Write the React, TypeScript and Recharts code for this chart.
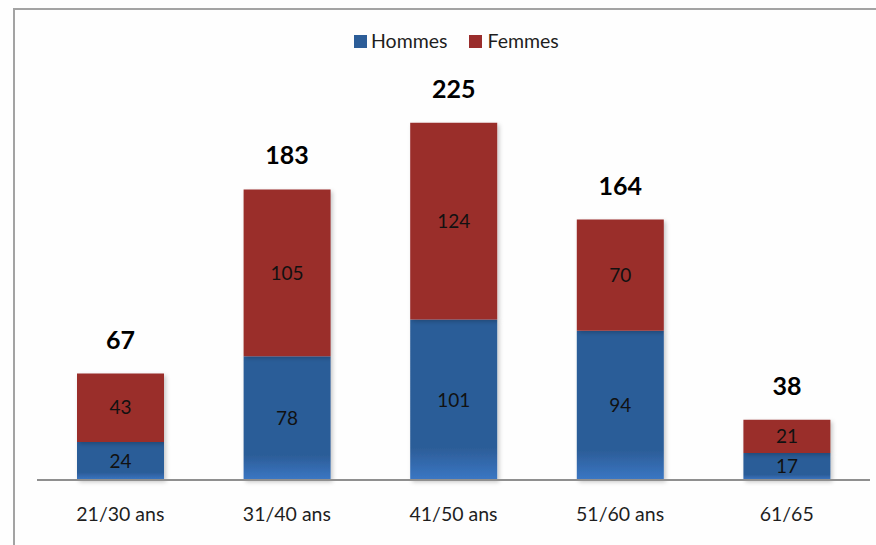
import React from "react";
import { BarChart, Bar, XAxis, YAxis, LabelList } from "recharts";

const categories = ["21/30 ans", "31/40 ans", "41/50 ans", "51/60 ans", "61/65"];
const hommes = [24, 78, 101, 94, 17];
const femmes = [43, 105, 124, 70, 21];
const totals = [67, 183, 225, 164, 38];

const data = categories.map((c, i) => ({
  name: c,
  hommes: hommes[i],
  femmes: femmes[i],
  total: totals[i],
}));

const FONT = "Lato, 'Open Sans', sans-serif";
const BLUE = "#2C5D98";
const RED = "#9A2D2C";

export default function App() {
  return (
    <div
      style={{
        position: "fixed",
        left: 0,
        top: 0,
        width: 876,
        height: 545,
        overflow: "hidden",
        background: "#fefefe",
        fontFamily: FONT,
      }}
    >
      <div
        style={{
          position: "absolute",
          left: 13,
          top: 8,
          width: 950,
          height: 650,
          border: "2px solid #a3a3a3",
          boxSizing: "border-box",
        }}
      />
      <div
        style={{
          position: "absolute",
          top: 30,
          left: 354,
          display: "flex",
          alignItems: "center",
          fontSize: 19.5,
          color: "#1e1e1e",
          lineHeight: "22px",
        }}
      >
        <span style={{ width: 13, height: 13, background: BLUE, display: "inline-block", marginRight: 4 }} />
        <span>Hommes</span>
        <span style={{ width: 13, height: 13, background: RED, display: "inline-block", marginLeft: 22, marginRight: 5 }} />
        <span>Femmes</span>
      </div>
      <div style={{ position: "absolute", left: 0, top: 0 }}>
        <BarChart
          width={876}
          height={545}
          data={data}
          margin={{ top: 83, right: 6, left: 37, bottom: 0 }}
          barSize={87}
        >
          <defs>
            <linearGradient id="blueGrad" x1="0" y1="0" x2="0" y2="1">
              <stop offset="0" stopColor={BLUE} />
              <stop offset="0.8" stopColor={BLUE} />
              <stop offset="1" stopColor="#3B77C4" />
            </linearGradient>
            <filter id="shadow" x="-10%" y="-10%" width="130%" height="130%">
              <feDropShadow dx="2" dy="2" stdDeviation="2" floodColor="#000" floodOpacity="0.22" />
            </filter>
          </defs>
          <XAxis
            dataKey="name"
            height={65}
            tickLine={false}
            axisLine={{ stroke: "#8f8f8f", strokeWidth: 2 }}
            tick={{ fill: "#1e1e1e", fontSize: 19.5, fontFamily: FONT }}
            tickMargin={21}
          />
          <YAxis hide domain={[0, 250]} />
          <Bar
            dataKey="hommes"
            stackId="a"
            fill="url(#blueGrad)"
            isAnimationActive={false}
            filter="url(#shadow)"
          >
            <LabelList dataKey="hommes" position="center" fill="#111" fontSize={19} fontFamily={FONT} />
          </Bar>
          <Bar
            dataKey="femmes"
            stackId="a"
            fill={RED}
            isAnimationActive={false}
            filter="url(#shadow)"
          >
            <LabelList dataKey="femmes" position="center" fill="#111" fontSize={19} fontFamily={FONT} />
            <LabelList
              dataKey="total"
              position="top"
              offset={25}
              fill="#000"
              fontSize={25}
              fontWeight="bold"
              fontFamily={FONT}
            />
          </Bar>
        </BarChart>
      </div>
    </div>
  );
}
